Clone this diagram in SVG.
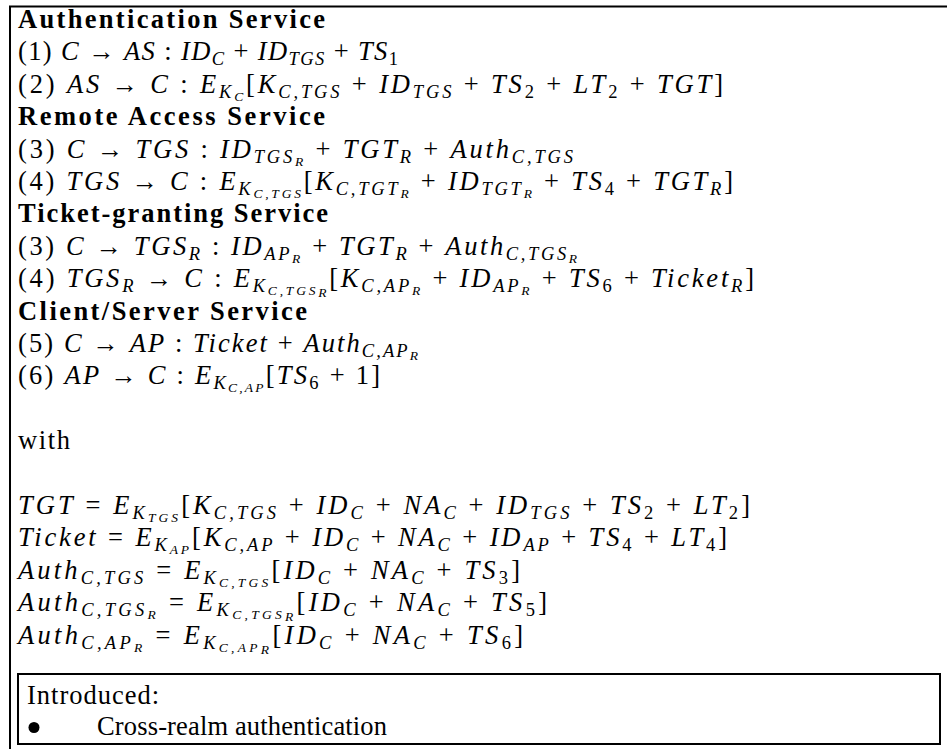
<svg xmlns="http://www.w3.org/2000/svg" width="947" height="749" viewBox="0 0 947 749">
<style>
.m{font-family:"Liberation Serif","DejaVu Serif",serif;font-size:26.5px;fill:#000}
.b{font-weight:bold}
.i{font-style:italic}
.s1{font-size:18.5px}
.s2{font-size:13.5px}
.frame{fill:none;stroke:#000;stroke-width:2}
</style>
<rect width="947" height="749" fill="#fff"/>
<g id="outer-frame"><path class="frame" d="M10,749 V6.5 H947"/></g>
<g id="authentication-service">
<text class="m b" x="18" y="28" textLength="307">Authentication Service</text>
<text class="m" x="18" y="60.4" textLength="380">(1) <tspan class="i">C</tspan> → <tspan class="i">AS</tspan> : <tspan class="i">ID</tspan><tspan class="i s1" dy="5">C</tspan><tspan dy="-5"> + </tspan><tspan class="i">ID</tspan><tspan class="i s1" dy="5">TGS</tspan><tspan dy="-5"> + </tspan><tspan class="i">TS</tspan><tspan class="s1" dy="5">1</tspan></text>
<text class="m" x="18" y="92.8" textLength="705">(2) <tspan class="i">AS</tspan> → <tspan class="i">C</tspan> : <tspan class="i">E</tspan><tspan class="i s1" dy="5">K</tspan><tspan class="i s2" dy="3">C</tspan><tspan dy="-8">[</tspan><tspan class="i">K</tspan><tspan class="i s1" dy="5">C,TGS</tspan><tspan dy="-5"> + </tspan><tspan class="i">ID</tspan><tspan class="i s1" dy="5">TGS</tspan><tspan dy="-5"> + </tspan><tspan class="i">TS</tspan><tspan class="s1" dy="5">2</tspan><tspan dy="-5"> + </tspan><tspan class="i">LT</tspan><tspan class="s1" dy="5">2</tspan><tspan dy="-5"> + </tspan><tspan class="i">TGT</tspan>]</text>
</g>
<g id="remote-access-service">
<text class="m b" x="18" y="125.2" textLength="307">Remote Access Service</text>
<text class="m" x="18" y="157.6" textLength="555">(3) <tspan class="i">C</tspan> → <tspan class="i">TGS</tspan> : <tspan class="i">ID</tspan><tspan class="i s1" dy="5">TGS</tspan><tspan class="i s2" dy="3">R</tspan><tspan dy="-8"> + </tspan><tspan class="i">TGT</tspan><tspan class="i s1" dy="5">R</tspan><tspan dy="-5"> + </tspan><tspan class="i">Auth</tspan><tspan class="i s1" dy="5">C,TGS</tspan></text>
<text class="m" x="18" y="190" textLength="715">(4) <tspan class="i">TGS</tspan> → <tspan class="i">C</tspan> : <tspan class="i">E</tspan><tspan class="i s1" dy="5">K</tspan><tspan class="i s2" dy="3">C,TGS</tspan><tspan dy="-8">[</tspan><tspan class="i">K</tspan><tspan class="i s1" dy="5">C,TGT</tspan><tspan class="i s2" dy="3">R</tspan><tspan dy="-8"> + </tspan><tspan class="i">ID</tspan><tspan class="i s1" dy="5">TGT</tspan><tspan class="i s2" dy="3">R</tspan><tspan dy="-8"> + </tspan><tspan class="i">TS</tspan><tspan class="s1" dy="5">4</tspan><tspan dy="-5"> + </tspan><tspan class="i">TGT</tspan><tspan class="i s1" dy="5">R</tspan><tspan dy="-5">]</tspan></text>
</g>
<g id="ticket-granting-service">
<text class="m b" x="18" y="222.4" textLength="310">Ticket-granting Service</text>
<text class="m" x="18" y="254.8" textLength="559">(3) <tspan class="i">C</tspan> → <tspan class="i">TGS</tspan><tspan class="i s1" dy="5">R</tspan><tspan dy="-5"> : </tspan><tspan class="i">ID</tspan><tspan class="i s1" dy="5">AP</tspan><tspan class="i s2" dy="3">R</tspan><tspan dy="-8"> + </tspan><tspan class="i">TGT</tspan><tspan class="i s1" dy="5">R</tspan><tspan dy="-5"> + </tspan><tspan class="i">Auth</tspan><tspan class="i s1" dy="5">C,TGS</tspan><tspan class="i s2" dy="3">R</tspan></text>
<text class="m" x="18" y="287.2" textLength="736">(4) <tspan class="i">TGS</tspan><tspan class="i s1" dy="5">R</tspan><tspan dy="-5"> → </tspan><tspan class="i">C</tspan> : <tspan class="i">E</tspan><tspan class="i s1" dy="5">K</tspan><tspan class="i s2" dy="3">C,TGS</tspan><tspan class="i s2" dy="2">R</tspan><tspan dy="-10">[</tspan><tspan class="i">K</tspan><tspan class="i s1" dy="5">C,AP</tspan><tspan class="i s2" dy="3">R</tspan><tspan dy="-8"> + </tspan><tspan class="i">ID</tspan><tspan class="i s1" dy="5">AP</tspan><tspan class="i s2" dy="3">R</tspan><tspan dy="-8"> + </tspan><tspan class="i">TS</tspan><tspan class="s1" dy="5">6</tspan><tspan dy="-5"> + </tspan><tspan class="i">Ticket</tspan><tspan class="i s1" dy="5">R</tspan><tspan dy="-5">]</tspan></text>
</g>
<g id="client-server-service">
<text class="m b" x="18" y="319.6" textLength="289">Client/Server Service</text>
<text class="m" x="18" y="352" textLength="400">(5) <tspan class="i">C</tspan> → <tspan class="i">AP</tspan> : <tspan class="i">Ticket</tspan> + <tspan class="i">Auth</tspan><tspan class="i s1" dy="5">C,AP</tspan><tspan class="i s2" dy="3">R</tspan></text>
<text class="m" x="18" y="384.4" textLength="362">(6) <tspan class="i">AP</tspan> → <tspan class="i">C</tspan> : <tspan class="i">E</tspan><tspan class="i s1" dy="5">K</tspan><tspan class="i s2" dy="3">C,AP</tspan><tspan dy="-8">[</tspan><tspan class="i">TS</tspan><tspan class="s1" dy="5">6</tspan><tspan dy="-5"> + 1]</tspan></text>
</g>
<g id="definitions">
<text class="m" x="18" y="449.2" textLength="52">with</text>
<text class="m" x="18" y="514" textLength="732"><tspan class="i">TGT</tspan> = <tspan class="i">E</tspan><tspan class="i s1" dy="5">K</tspan><tspan class="i s2" dy="3">TGS</tspan><tspan dy="-8">[</tspan><tspan class="i">K</tspan><tspan class="i s1" dy="5">C,TGS</tspan><tspan dy="-5"> + </tspan><tspan class="i">ID</tspan><tspan class="i s1" dy="5">C</tspan><tspan dy="-5"> + </tspan><tspan class="i">NA</tspan><tspan class="i s1" dy="5">C</tspan><tspan dy="-5"> + </tspan><tspan class="i">ID</tspan><tspan class="i s1" dy="5">TGS</tspan><tspan dy="-5"> + </tspan><tspan class="i">TS</tspan><tspan class="s1" dy="5">2</tspan><tspan dy="-5"> + </tspan><tspan class="i">LT</tspan><tspan class="s1" dy="5">2</tspan><tspan dy="-5">]</tspan></text>
<text class="m" x="18" y="546.4" textLength="709"><tspan class="i">Ticket</tspan> = <tspan class="i">E</tspan><tspan class="i s1" dy="5">K</tspan><tspan class="i s2" dy="3">AP</tspan><tspan dy="-8">[</tspan><tspan class="i">K</tspan><tspan class="i s1" dy="5">C,AP</tspan><tspan dy="-5"> + </tspan><tspan class="i">ID</tspan><tspan class="i s1" dy="5">C</tspan><tspan dy="-5"> + </tspan><tspan class="i">NA</tspan><tspan class="i s1" dy="5">C</tspan><tspan dy="-5"> + </tspan><tspan class="i">ID</tspan><tspan class="i s1" dy="5">AP</tspan><tspan dy="-5"> + </tspan><tspan class="i">TS</tspan><tspan class="s1" dy="5">4</tspan><tspan dy="-5"> + </tspan><tspan class="i">LT</tspan><tspan class="s1" dy="5">4</tspan><tspan dy="-5">]</tspan></text>
<text class="m" x="18" y="578.8" textLength="502"><tspan class="i">Auth</tspan><tspan class="i s1" dy="5">C,TGS</tspan><tspan dy="-5"> = </tspan><tspan class="i">E</tspan><tspan class="i s1" dy="5">K</tspan><tspan class="i s2" dy="3">C,TGS</tspan><tspan dy="-8">[</tspan><tspan class="i">ID</tspan><tspan class="i s1" dy="5">C</tspan><tspan dy="-5"> + </tspan><tspan class="i">NA</tspan><tspan class="i s1" dy="5">C</tspan><tspan dy="-5"> + </tspan><tspan class="i">TS</tspan><tspan class="s1" dy="5">3</tspan><tspan dy="-5">]</tspan></text>
<text class="m" x="18" y="611.2" textLength="529"><tspan class="i">Auth</tspan><tspan class="i s1" dy="5">C,TGS</tspan><tspan class="i s2" dy="3">R</tspan><tspan dy="-8"> = </tspan><tspan class="i">E</tspan><tspan class="i s1" dy="5">K</tspan><tspan class="i s2" dy="3">C,TGS</tspan><tspan class="i s2" dy="2">R</tspan><tspan dy="-10">[</tspan><tspan class="i">ID</tspan><tspan class="i s1" dy="5">C</tspan><tspan dy="-5"> + </tspan><tspan class="i">NA</tspan><tspan class="i s1" dy="5">C</tspan><tspan dy="-5"> + </tspan><tspan class="i">TS</tspan><tspan class="s1" dy="5">5</tspan><tspan dy="-5">]</tspan></text>
<text class="m" x="18" y="643.6" textLength="505"><tspan class="i">Auth</tspan><tspan class="i s1" dy="5">C,AP</tspan><tspan class="i s2" dy="3">R</tspan><tspan dy="-8"> = </tspan><tspan class="i">E</tspan><tspan class="i s1" dy="5">K</tspan><tspan class="i s2" dy="3">C,AP</tspan><tspan class="i s2" dy="2">R</tspan><tspan dy="-10">[</tspan><tspan class="i">ID</tspan><tspan class="i s1" dy="5">C</tspan><tspan dy="-5"> + </tspan><tspan class="i">NA</tspan><tspan class="i s1" dy="5">C</tspan><tspan dy="-5"> + </tspan><tspan class="i">TS</tspan><tspan class="s1" dy="5">6</tspan><tspan dy="-5">]</tspan></text>
</g>
<g id="introduced-box">
<rect class="frame" x="18" y="674" width="922" height="70"/>
<text class="m" x="27" y="704" textLength="132">Introduced:</text>
<circle cx="34" cy="727.5" r="5.5" fill="#000"/>
<text class="m" x="97" y="735" textLength="290">Cross-realm authentication</text>
</g>
</svg>
